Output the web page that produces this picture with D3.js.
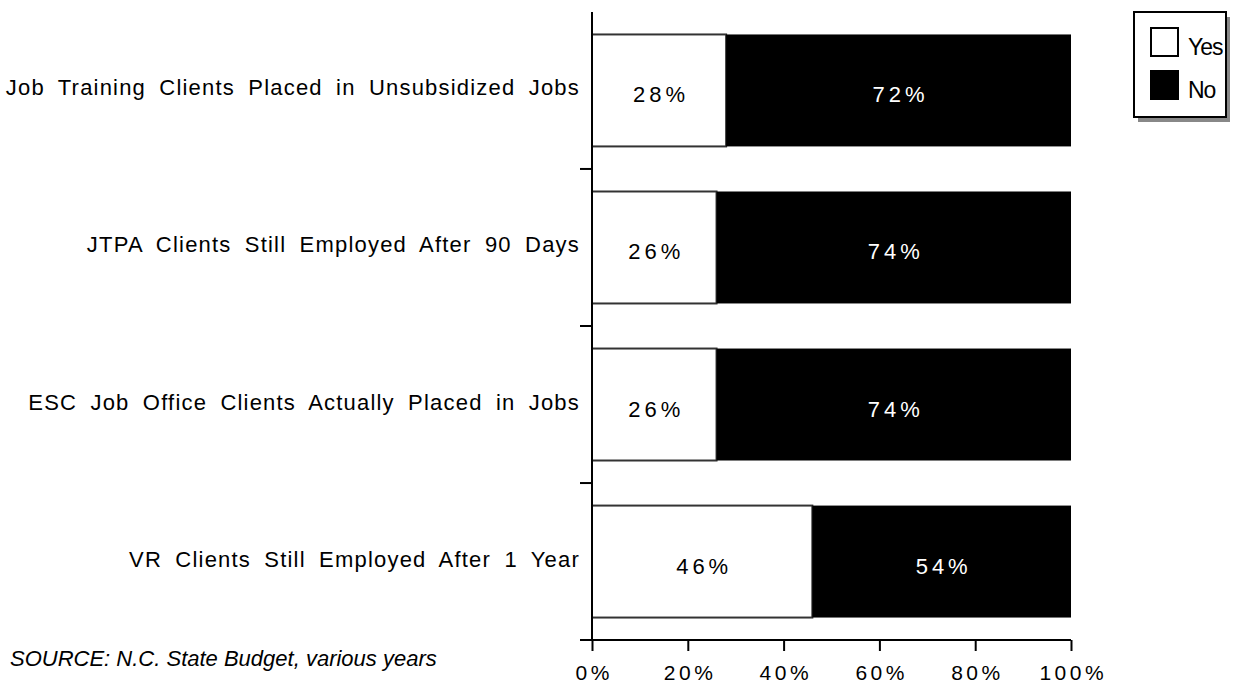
<!DOCTYPE html>
<html>
<head>
<meta charset="utf-8">
<script src="https://cdn.jsdelivr.net/npm/d3@7"></script>
<style>
  html, body { margin: 0; padding: 0; background: #fff; }
  svg { display: block; font-family: "Liberation Sans", Arial, sans-serif; }
</style>
</head>
<body>
<svg id="chart" width="1245" height="684"></svg>
<script>
// Program outcomes, share of clients (percent)
const categories = [
  "Job Training Clients Placed in Unsubsidized Jobs",
  "JTPA Clients Still Employed After 90 Days",
  "ESC Job Office Clients Actually Placed in Jobs",
  "VR Clients Still Employed After 1 Year"
];
const yesValues = [28, 26, 26, 46];
const noValues = [72, 74, 74, 54];
const xTicks = [0, 20, 40, 60, 80, 100];
const seriesNames = ["Yes", "No"];
const seriesFill = ["#ffffff", "#000000"];
const sourceNote = "SOURCE: N.C. State Budget, various years";

const svg = d3.select("#chart");
const plotLeft = 592, plotRight = 1071, plotTop = 12, plotBottom = 640;

const x = d3.scaleLinear().domain([0, 100]).range([plotLeft, plotRight]);
const y = d3.scaleBand().domain(categories).range([plotTop, plotBottom]).paddingInner(0.287).paddingOuter(0.143);

const rows = categories.map((c, i) => ({ cat: c, yes: yesValues[i], no: noValues[i] }));

// stacked bar segments with value labels
const valueLS = 4;
const segs = svg.append("g");
rows.forEach(r => {
  segs.append("rect")
    .attr("x", x(0)).attr("y", y(r.cat))
    .attr("width", x(r.yes) - x(0)).attr("height", y.bandwidth())
    .attr("fill", seriesFill[0]).attr("stroke", "#333").attr("stroke-width", 2);
  segs.append("rect")
    .attr("x", x(r.yes)).attr("y", y(r.cat))
    .attr("width", x(r.yes + r.no) - x(r.yes)).attr("height", y.bandwidth())
    .attr("fill", seriesFill[1]);
  const ty = y(r.cat) + y.bandwidth() / 2 + 12;
  segs.append("text")
    .attr("x", (x(0) + x(r.yes)) / 2 + valueLS / 2).attr("y", ty)
    .attr("text-anchor", "middle").attr("font-size", 22).attr("letter-spacing", valueLS)
    .attr("fill", "#000").text(r.yes + "%");
  segs.append("text")
    .attr("x", (x(r.yes) + x(100)) / 2 + valueLS / 2).attr("y", ty)
    .attr("text-anchor", "middle").attr("font-size", 22).attr("letter-spacing", valueLS)
    .attr("fill", "#fff").text(r.no + "%");
});

// vertical category axis with ticks between bands
const axisY = svg.append("g");
axisY.append("line").attr("x1", plotLeft).attr("x2", plotLeft).attr("y1", plotTop).attr("y2", plotBottom)
  .attr("stroke", "#000").attr("stroke-width", 2);
const step = y.step();
categories.forEach((c, i) => {
  if (i > 0) {
    const ty = y(c) - (step - y.bandwidth()) / 2;
    axisY.append("line").attr("x1", plotLeft - 12).attr("x2", plotLeft).attr("y1", ty).attr("y2", ty)
      .attr("stroke", "#000").attr("stroke-width", 2);
  }
  axisY.append("text")
    .attr("x", 580).attr("y", y(c) + y.bandwidth() / 2 + 5)
    .attr("text-anchor", "end").attr("font-size", 22)
    .attr("letter-spacing", 1.2).attr("word-spacing", 6)
    .attr("fill", "#000").text(c);
});

// horizontal percent axis
const tickLS = 3.5;
const xAxis = d3.axisBottom(x).tickValues(xTicks).tickFormat(d => d + "%").tickSize(11).tickSizeOuter(11);
const gx = svg.append("g").attr("transform", `translate(0,${plotBottom})`).call(xAxis);
gx.select(".domain").attr("stroke", "#000").attr("stroke-width", 2)
  .attr("d", `M${plotLeft - 12},0H${plotRight}`);
gx.selectAll(".tick line").attr("stroke", "#000").attr("stroke-width", 2);
gx.selectAll(".tick text").attr("font-size", 21).attr("letter-spacing", tickLS)
  .attr("font-family", "Liberation Sans, Arial, sans-serif").attr("fill", "#000")
  .attr("y", 40).attr("dy", 0).attr("dx", tickLS / 2);

// source note
svg.append("text").attr("x", 10).attr("y", 666).attr("font-size", 22)
  .attr("font-style", "italic").attr("fill", "#000").text(sourceNote);

// legend with drop shadow
const lg = svg.append("g");
lg.append("rect").attr("x", 1138).attr("y", 17).attr("width", 92).attr("height", 105).attr("fill", "#888");
lg.append("rect").attr("x", 1134).attr("y", 12).attr("width", 92).attr("height", 105)
  .attr("fill", "#fff").attr("stroke", "#000").attr("stroke-width", 2);
seriesNames.forEach((n, i) => {
  const sy = 28 + i * 43;
  lg.append("rect").attr("x", 1151).attr("y", sy).attr("width", 27).attr("height", 28)
    .attr("fill", seriesFill[i]).attr("stroke", "#000").attr("stroke-width", 2);
  lg.append("text").attr("x", 1188).attr("y", sy + 27).attr("font-size", 23)
    .attr("letter-spacing", -1).attr("fill", "#000").text(n);
});
</script>
</body>
</html>
